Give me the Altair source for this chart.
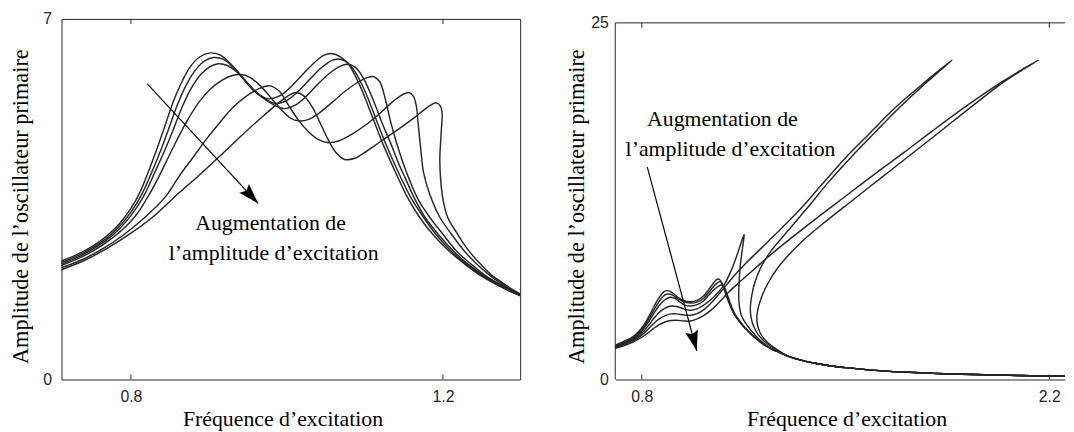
import altair as alt
import pandas as pd

# ---------------- data ----------------
# Left panel: six response curves (frequency, amplitude), in drawing order
L1 = [(0.709,2.29),(0.73,2.42),(0.75,2.58),(0.77,2.80),(0.785,3.02),(0.80,3.32),(0.812,3.65),(0.822,4.02),(0.832,4.42),(0.842,4.85),(0.855,5.42),(0.866,5.80),(0.876,6.07),(0.888,6.26),(0.902,6.34),(0.914,6.30),(0.927,6.14),(0.940,5.92),(0.957,5.62),(0.975,5.45),(0.99,5.50),(1.005,5.68),(1.02,5.92),(1.035,6.15),(1.047,6.29),(1.056,6.33),(1.068,6.27),(1.079,6.12),(1.094,5.69),(1.109,5.12),(1.124,4.54),(1.139,4.03),(1.154,3.55),(1.170,3.15),(1.188,2.80),(1.206,2.52),(1.228,2.24),(1.25,2.00),(1.27,1.83),(1.285,1.72),(1.299,1.63)]
L2 = [(0.709,2.26),(0.73,2.39),(0.75,2.55),(0.77,2.76),(0.785,2.97),(0.80,3.25),(0.814,3.60),(0.826,4.00),(0.837,4.40),(0.848,4.85),(0.86,5.35),(0.872,5.75),(0.884,6.03),(0.895,6.19),(0.906,6.25),(0.918,6.22),(0.93,6.08),(0.945,5.82),(0.962,5.55),(0.985,5.36),(1.0,5.42),(1.015,5.6),(1.03,5.84),(1.045,6.06),(1.057,6.19),(1.066,6.22),(1.076,6.17),(1.087,5.98),(1.1,5.6),(1.113,5.1),(1.126,4.6),(1.136,4.25),(1.146,3.92),(1.16,3.5),(1.175,3.15),(1.192,2.80),(1.21,2.50),(1.23,2.24),(1.252,2.00),(1.27,1.84),(1.285,1.72),(1.299,1.63)]
L3 = [(0.709,2.23),(0.73,2.36),(0.75,2.52),(0.77,2.72),(0.785,2.92),(0.80,3.18),(0.816,3.55),(0.83,4.0),(0.842,4.4),(0.853,4.8),(0.866,5.3),(0.878,5.67),(0.89,5.93),(0.901,6.07),(0.912,6.13),(0.923,6.10),(0.935,5.98),(0.95,5.75),(0.968,5.48),(0.995,5.26),(1.01,5.32),(1.025,5.5),(1.04,5.74),(1.055,5.95),(1.068,6.08),(1.078,6.12),(1.088,6.06),(1.098,5.85),(1.11,5.45),(1.122,4.98),(1.134,4.55),(1.143,4.2),(1.152,3.9),(1.164,3.5),(1.177,3.15),(1.195,2.80),(1.213,2.50),(1.232,2.24),(1.254,2.00),(1.272,1.84),(1.286,1.72),(1.299,1.64)]
L4 = [(0.709,2.20),(0.73,2.33),(0.752,2.50),(0.772,2.70),(0.79,2.92),(0.806,3.18),(0.82,3.5),(0.833,3.85),(0.845,4.22),(0.858,4.62),(0.872,5.02),(0.887,5.38),(0.902,5.64),(0.917,5.81),(0.93,5.9),(0.94,5.92),(0.952,5.87),(0.966,5.7),(0.98,5.46),(0.994,5.22),(1.005,5.07),(1.015,5.02),(1.028,5.05),(1.042,5.18),(1.058,5.38),(1.075,5.6),(1.092,5.78),(1.103,5.86),(1.111,5.88),(1.119,5.78),(1.126,5.45),(1.133,5.0),(1.14,4.62),(1.149,4.2),(1.157,3.88),(1.168,3.5),(1.183,3.15),(1.2,2.82),(1.217,2.50),(1.236,2.24),(1.256,2.00),(1.273,1.85),(1.287,1.73),(1.299,1.64)]
L5 = [(0.709,2.16),(0.735,2.31),(0.762,2.52),(0.79,2.8),(0.818,3.15),(0.845,3.56),(0.862,3.95),(0.88,4.32),(0.897,4.67),(0.914,4.99),(0.93,5.27),(0.948,5.5),(0.965,5.65),(0.978,5.70),(0.99,5.6),(1.003,5.3),(1.015,5.03),(1.027,4.82),(1.04,4.66),(1.052,4.60),(1.066,4.63),(1.083,4.76),(1.1,4.93),(1.118,5.15),(1.134,5.37),(1.146,5.51),(1.156,5.57),(1.162,5.5),(1.166,5.3),(1.168,5.0),(1.17,4.7),(1.172,4.41),(1.175,4.03),(1.183,3.6),(1.196,3.15),(1.21,2.84),(1.226,2.52),(1.242,2.26),(1.26,2.02),(1.275,1.86),(1.288,1.74),(1.299,1.65)]
L6 = [(0.709,2.12),(0.74,2.31),(0.77,2.55),(0.80,2.84),(0.83,3.18),(0.86,3.6),(0.89,4.0),(0.92,4.42),(0.945,4.78),(0.97,5.12),(0.99,5.38),(1.003,5.52),(1.012,5.57),(1.022,5.50),(1.032,5.3),(1.042,5.0),(1.052,4.68),(1.062,4.42),(1.074,4.27),(1.088,4.30),(1.1,4.41),(1.12,4.62),(1.143,4.86),(1.163,5.08),(1.177,5.25),(1.186,5.34),(1.192,5.37),(1.197,5.30),(1.199,5.15),(1.198,4.85),(1.197,4.6),(1.196,4.3),(1.197,3.9),(1.2,3.5),(1.206,3.15),(1.218,2.84),(1.232,2.52),(1.247,2.26),(1.262,2.03),(1.277,1.87),(1.289,1.75),(1.299,1.66)]

# Right panel: six curves; R_TAIL is the common decaying branch they all end on
R_TAIL = [(1.30,1.66),(1.35,1.34),(1.40,1.12),(1.45,0.95),(1.50,0.83),(1.60,0.64),(1.70,0.52),(1.80,0.43),(1.90,0.37),(2.00,0.32),(2.10,0.28),(2.20,0.24),(2.26,0.22)]
R1 = [(0.709,2.40),(0.74,2.68),(0.773,3.05),(0.807,3.81),(0.825,4.45),(0.841,5.08),(0.855,5.6),(0.868,5.98),(0.878,6.17),(0.887,6.23),(0.897,6.18),(0.91,6.0),(0.925,5.75),(0.945,5.52),(0.967,5.45),(0.99,5.55),(1.012,5.85),(1.03,6.3),(1.046,6.75),(1.056,6.98),(1.063,7.04),(1.07,6.95),(1.08,6.5),(1.095,5.6),(1.114,4.7),(1.13,4.2),(1.148,3.75),(1.165,3.4),(1.182,3.05),(1.2,2.75),(1.217,2.48),(1.25,2.1),(1.27,1.93)]
R2 = [(0.709,2.36),(0.74,2.63),(0.773,2.98),(0.807,3.70),(0.825,4.28),(0.841,4.85),(0.855,5.32),(0.868,5.7),(0.88,5.93),(0.892,6.0),(0.905,5.93),(0.92,5.72),(0.94,5.48),(0.967,5.36),(0.99,5.42),(1.012,5.68),(1.03,6.1),(1.046,6.5),(1.06,6.78),(1.069,6.86),(1.077,6.72),(1.088,6.2),(1.1,5.45),(1.117,4.62),(1.133,4.15),(1.15,3.72),(1.167,3.38),(1.184,3.04),(1.2,2.76),(1.217,2.49),(1.25,2.1),(1.27,1.93)]
R3 = [(0.709,2.32),(0.74,2.57),(0.773,2.9),(0.807,3.58),(0.825,4.1),(0.841,4.62),(0.855,5.05),(0.87,5.42),(0.884,5.66),(0.898,5.77),(0.912,5.7),(0.93,5.45),(0.95,5.2),(0.967,5.15),(0.99,5.25),(1.012,5.5),(1.03,5.9),(1.046,6.25),(1.062,6.52),(1.074,6.62),(1.082,6.5),(1.093,6.0),(1.105,5.3),(1.12,4.6),(1.136,4.12),(1.152,3.7),(1.168,3.36),(1.185,3.03),(1.2,2.76),(1.217,2.49),(1.25,2.1),(1.27,1.93)]
R4 = [(0.709,2.28),(0.74,2.51),(0.773,2.82),(0.807,3.4),(0.825,3.85),(0.841,4.27),(0.86,4.7),(0.88,5.0),(0.9,5.15),(0.92,5.12),(0.945,4.95),(0.967,4.85),(0.99,4.95),(1.012,5.2),(1.035,5.55),(1.055,5.95),(1.08,6.55),(1.1,7.3),(1.12,8.3),(1.14,9.5),(1.152,10.16),(1.146,9.2),(1.139,8.1),(1.135,7.0),(1.133,6.0),(1.135,5.2),(1.142,4.5),(1.155,4.0),(1.175,3.45),(1.2,2.88),(1.225,2.45),(1.25,2.12),(1.27,1.94)]
R5 = [(0.709,2.24),(0.74,2.45),(0.773,2.74),(0.807,3.23),(0.825,3.6),(0.841,3.93),(0.86,4.25),(0.88,4.48),(0.9,4.6),(0.92,4.6),(0.945,4.52),(0.967,4.5),(0.99,4.62),(1.012,4.88),(1.04,5.4),(1.07,6.1),(1.10,6.85),(1.13,7.55),(1.16,8.2),(1.2,9.0),(1.25,10.0),(1.30,11.0),(1.356,12.2),(1.42,13.7),(1.498,15.5),(1.58,17.2),(1.673,19.1),(1.77,20.8),(1.866,22.39),(1.78,20.85),(1.69,19.15),(1.6,17.3),(1.515,15.5),(1.44,13.8),(1.38,12.3),(1.33,11.1),(1.28,9.9),(1.24,8.9),(1.21,7.9),(1.19,6.9),(1.178,5.9),(1.173,5.0),(1.176,4.3),(1.185,3.7),(1.2,3.15),(1.22,2.7),(1.245,2.3),(1.27,1.98)]
R6 = [(0.709,2.18),(0.74,2.38),(0.773,2.66),(0.807,3.05),(0.825,3.32),(0.841,3.58),(0.86,3.85),(0.88,4.03),(0.9,4.13),(0.92,4.15),(0.945,4.1),(0.967,4.1),(0.99,4.25),(1.012,4.48),(1.04,4.9),(1.07,5.5),(1.1,6.15),(1.14,6.9),(1.19,7.8),(1.246,8.8),(1.3,9.7),(1.4,11.3),(1.5,12.85),(1.6,14.4),(1.7,15.9),(1.8,17.45),(1.917,19.2),(2.04,20.9),(2.162,22.39),(2.05,20.95),(1.934,19.15),(1.82,17.3),(1.72,15.7),(1.62,14.1),(1.52,12.5),(1.43,11.05),(1.36,9.85),(1.315,8.95),(1.27,7.9),(1.235,6.8),(1.21,5.7),(1.197,4.7),(1.196,4.0),(1.205,3.35),(1.22,2.85),(1.245,2.38),(1.27,2.03)]

# tick values
XT_LEFT = [0.8, 1.2]
YT_LEFT = [0, 7]
XT_RIGHT = [0.8, 2.2]
YT_RIGHT = [0, 25]

# annotations (text, x, y) and arrows (start, end) in data units
ANN_LEFT = [("Augmentation de", 0.979, 3.04), ("l\u2019amplitude d\u2019excitation", 0.983, 2.46)]
ANN_RIGHT = [("Augmentation de", 1.077, 18.23), ("l\u2019amplitude d\u2019excitation", 1.105, 16.16)]
ARROW_LEFT = [(0.821, 5.74), (0.963, 3.42)]
ARROW_RIGHT = [(0.819, 14.89), (0.989, 2.01)]

XLABEL = "Fr\u00e9quence d\u2019excitation"
YLABEL = "Amplitude de l\u2019oscillateur primaire"

# ---------------- helpers ----------------
INK = "#262626"
SERIF = "Liberation Serif"
SANS = "Liberation Sans"
H = 364
HEAD = "M0,0L-0.32,1L0,0.84L0.32,1Z"


def curves_df(curves):
    rows = []
    for cid, pts in enumerate(curves):
        for i, (x, y) in enumerate(pts):
            rows.append({"c": cid, "i": i, "x": x, "y": y})
    return pd.DataFrame(rows)


def panel(curves, xdom, ydom, width, xt, yt, ann, arrow, head_angle,
          x_title_x, y_title_x, y_label_pad, top_px, framed):
    xs = alt.Scale(domain=xdom, nice=False, zero=False)
    ys = alt.Scale(domain=ydom, nice=False, zero=False)
    xaxis = alt.Axis(
        values=xt, format=".1f", title=XLABEL, grid=False, ticks=False,
        domain=not framed, domainColor=INK, domainWidth=1,
        labelFont=SANS, labelFontSize=16, labelColor=INK, labelPadding=9,
        titleFont=SERIF, titleFontSize=22, titleFontWeight="normal", titleColor="black",
        titleX=x_title_x, titleY=39, titleBaseline="middle", titleAlign="center")
    yaxis = alt.Axis(
        values=yt, format="d", title=YLABEL, grid=False, ticks=False, domain=False,
        labelFont=SANS, labelFontSize=16, labelColor=INK, labelPadding=y_label_pad,
        titleFont=SERIF, titleFontSize=22.5, titleFontWeight="normal", titleColor="black",
        titleX=y_title_x, titleY=189, titleBaseline="middle", titleAlign="center",
        titleAngle=270)
    X = alt.X("x:Q", scale=xs, axis=xaxis)
    Y = alt.Y("y:Q", scale=ys, axis=yaxis)

    df = curves_df(curves)
    lines = alt.Chart(df).mark_line(color=INK, strokeWidth=1.45, clip=True,
                                    interpolate="catmull-rom").encode(
        x=X, y=Y, detail="c:N", order="i:Q")

    tdf = pd.DataFrame({"x": xt})
    ticks_bottom = alt.Chart(tdf).mark_rule(color=INK, strokeWidth=1).encode(
        x=X, y=alt.value(H), y2=alt.value(H - 5))
    ticks_top = alt.Chart(tdf).mark_rule(color=INK, strokeWidth=1).encode(
        x=X, y=alt.value(top_px), y2=alt.value(top_px + 5))

    adf = pd.DataFrame([{"t": t, "x": x, "y": y} for t, x, y in ann])
    texts = alt.Chart(adf).mark_text(font=SERIF, fontSize=22, color="black",
                                     align="center", baseline="middle").encode(
        x=X, y=Y, text="t:N")

    ardf = pd.DataFrame([{"k": k, "x": x, "y": y} for k, (x, y) in enumerate(arrow)])
    shaft = alt.Chart(ardf).mark_line(color="black", strokeWidth=1.2).encode(
        x=X, y=Y, order="k:Q")
    hdf = ardf.iloc[[-1]]
    head = alt.Chart(hdf).mark_point(shape=HEAD, size=1700, filled=True, color="black",
                                     opacity=1, angle=head_angle, strokeWidth=0).encode(
        x=X, y=Y)

    layers = [lines, ticks_bottom, ticks_top, texts, shaft, head]
    if not framed:
        bdf = pd.DataFrame({"y": [yt[0]], "y2": [yt[-1]]})
        left_border = alt.Chart(bdf).mark_rule(color=INK, strokeWidth=1).encode(
            x=alt.value(0), y=Y, y2="y2:Q")
        top_border = alt.Chart(bdf).mark_rule(color=INK, strokeWidth=1).encode(
            x=alt.value(0), x2=alt.value(width), y=alt.value(top_px))
        layers += [left_border, top_border]
    ch = alt.layer(*layers).properties(width=width, height=H)
    if framed:
        ch = ch.properties(view=alt.ViewBackground(stroke=INK, strokeWidth=1))
    else:
        ch = ch.properties(view=alt.ViewBackground(strokeOpacity=0, strokeWidth=0))
    return ch


left = panel([L1, L2, L3, L4, L5, L6], [0.711, 1.299], [0, 7], 463,
             XT_LEFT, YT_LEFT, ANN_LEFT, ARROW_LEFT, 137.2,
             223.1, -41.5, 10, 0, True)

right = panel([c + R_TAIL for c in (R1, R2, R3, R4, R5, R6)], [0.709, 2.254], [0, 25.28], 454,
              XT_RIGHT, YT_RIGHT, ANN_RIGHT, ARROW_RIGHT, 165.0,
              233.4, -38.6, 7, 4, False)

chart = alt.hconcat(left, right, spacing=45).properties(padding=0).configure_view(
    stroke="transparent")

chart.save("out.html", embed_options={"renderer": "svg", "actions": False})
